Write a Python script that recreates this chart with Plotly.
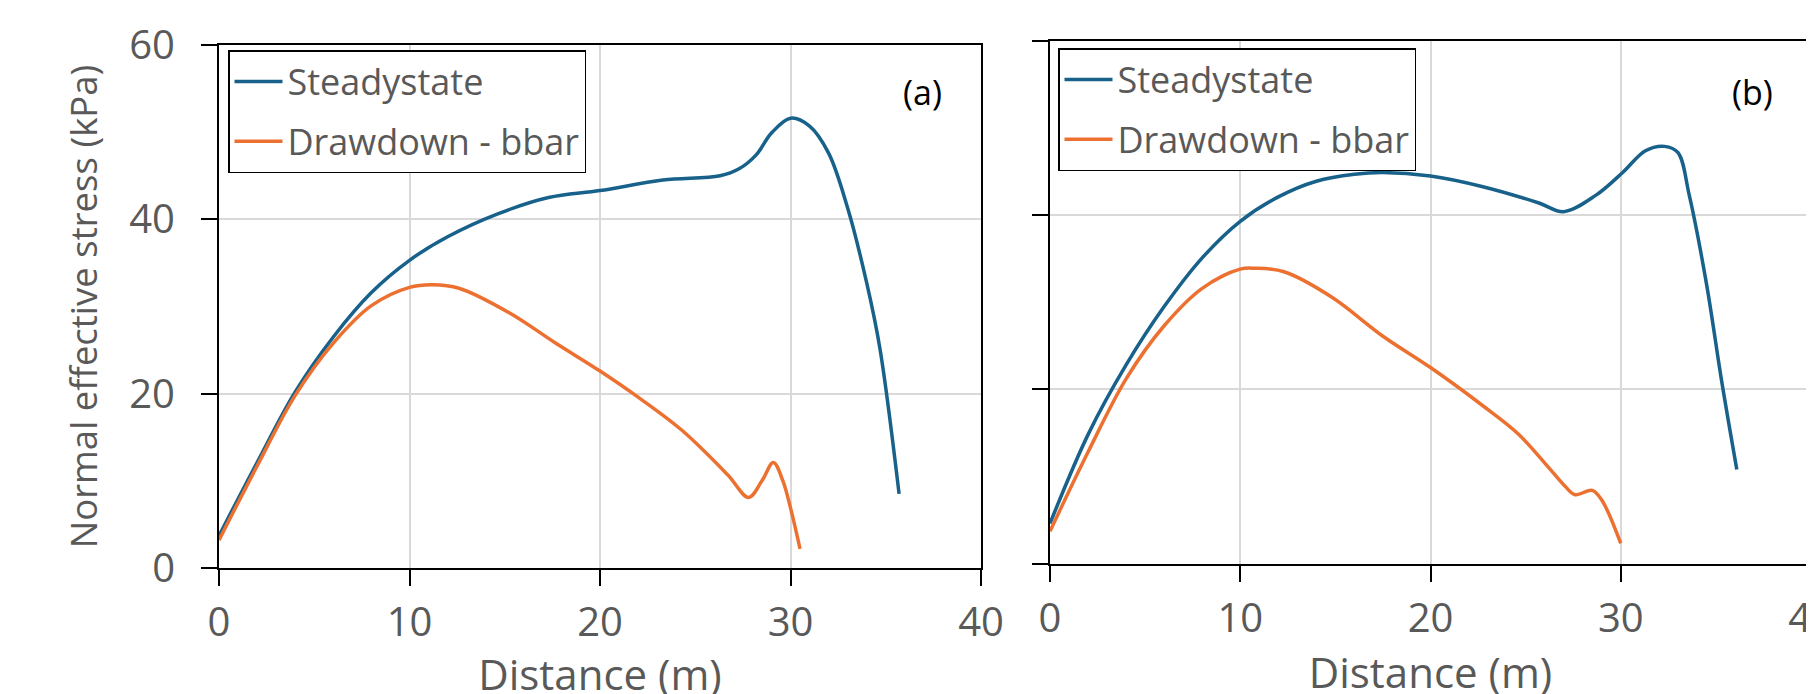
import plotly.graph_objects as go

# ---- data (panel a) ----
a_steady_x = [0, 2, 4, 6, 8, 10, 12, 14.6, 17.3, 20, 23.3, 26.3, 27.3, 28.2, 29, 30, 31, 32, 33, 34, 34.7, 35.7]
a_steady_y = [3.7, 12.1, 20.2, 26.5, 31.6, 35.3, 38.0, 40.6, 42.5, 43.3, 44.5, 45.0, 45.8, 47.4, 49.9, 51.6, 50.7, 47.6, 41.3, 32.7, 25.1, 8.5]
a_draw_x = [0, 2, 4, 6, 8, 10, 11.2, 12.6, 15.3, 17.6, 20, 22, 24.3, 26.7, 27.8, 28.5, 29.1, 29.6, 30, 30.5]
a_draw_y = [3.2, 11.7, 19.8, 25.8, 30.1, 32.2, 32.5, 32.1, 29.2, 25.9, 22.6, 19.6, 15.8, 10.7, 8.1, 10.0, 12.1, 10.0, 6.9, 2.2]

# ---- data (panel b) ----
b_steady_x = [0, 2, 4, 6, 8, 10, 12, 14, 16, 17.5, 20, 22.7, 25.7, 27, 28.7, 30.1, 31.3, 32.3, 33, 33.6, 34.5, 35.3, 36.1]
b_steady_y = [4.6, 14.8, 22.8, 29.5, 35.1, 39.3, 42.1, 43.9, 44.7, 44.9, 44.5, 43.3, 41.4, 40.4, 42.3, 44.9, 47.4, 47.9, 47.2, 42.3, 32.2, 21.0, 10.8]
b_draw_x = [0, 2, 4, 6, 8, 10, 10.8, 12.3, 14.8, 17.5, 20, 22.7, 24.6, 26.1, 27.1, 27.6, 28.5, 29, 30]
b_draw_y = [3.7, 12.8, 21.2, 27.3, 31.6, 33.8, 33.9, 33.5, 30.6, 26.1, 22.5, 18.2, 14.9, 11.3, 8.8, 7.9, 8.4, 7.3, 2.3]

x_ticks = [0, 10, 20, 30, 40]
y_ticks = [0, 20, 40, 60]

BLUE = "#17618A"
ORANGE = "#EC7131"
GRID = "#D9D9D9"
TXT = "#595959"
FONT = "Open Sans"

fig = go.Figure()
def add(xs, ys, name, color, xa, ya, leg, grp):
    fig.add_trace(go.Scatter(x=xs, y=ys, mode="lines", name=name,
                             line=dict(color=color, width=3.5, shape="spline", smoothing=1.0),
                             xaxis=xa, yaxis=ya, legend=leg, legendgroup=grp))

add(a_steady_x, a_steady_y, "Steadystate", BLUE, "x", "y", "legend", "a1")
add(a_draw_x, a_draw_y, "Drawdown - bbar", ORANGE, "x", "y", "legend", "a2")
add(b_steady_x, b_steady_y, "Steadystate", BLUE, "x2", "y2", "legend2", "b1")
add(b_draw_x, b_draw_y, "Drawdown - bbar", ORANGE, "x2", "y2", "legend2", "b2")

W, H = 1814, 694
OFF = 8  # page body margin offset


def px_x(p):
    return (p - OFF) / W


def px_y(p):
    return 1 - (p - OFF) / H


common_axis = dict(showline=True, linecolor="black", linewidth=2, mirror=True,
                   showgrid=True, gridcolor=GRID, gridwidth=1.8, zeroline=False,
                   ticks="outside", ticklen=16, tickcolor="black", tickwidth=1.5,
                   automargin=False, ticklabeloverflow="allow",
                   tickfont=dict(family=FONT, size=40, color=TXT))

legend_common = dict(xanchor="left", yanchor="top", bgcolor="white",
                     bordercolor="black", borderwidth=1.5, traceorder="grouped",
                     tracegroupgap=10, itemwidth=48,
                     font=dict(family=FONT, size=36, color=TXT))

fig.update_layout(
    width=W, height=H,
    margin=dict(l=0, r=0, t=0, b=0, autoexpand=False),
    paper_bgcolor="white", plot_bgcolor="white",
    xaxis=dict(domain=[px_x(219), px_x(981)], range=[0, 40], tickvals=x_ticks, anchor="y",
               title=dict(text="Distance (m)", font=dict(family=FONT, size=42, color=TXT), standoff=0),
               ticklabelstandoff=2, **common_axis),
    yaxis=dict(domain=[px_y(568), px_y(45)], range=[0, 60], tickvals=y_ticks, anchor="x",
               title=dict(text="Normal effective stress (kPa)", font=dict(family=FONT, size=36.5, color=TXT), standoff=20),
               ticklabelstandoff=18, **common_axis),
    xaxis2=dict(domain=[px_x(1050), px_x(1811)], range=[0, 40], tickvals=x_ticks, anchor="y2",
                title=dict(text="Distance (m)", font=dict(family=FONT, size=42, color=TXT), standoff=0),
                ticklabelstandoff=2, **common_axis),
    yaxis2=dict(domain=[px_y(563.5), px_y(41)], range=[0, 60], tickvals=y_ticks, anchor="x2",
                showticklabels=False, **common_axis),
    legend=dict(x=px_x(228), y=px_y(50), **legend_common),
    legend2=dict(x=px_x(1058), y=px_y(48), **legend_common),
    annotations=[
        dict(text="(a)", x=px_x(922), y=px_y(92), xref="paper", yref="paper", showarrow=False,
             xanchor="center", yanchor="middle",
             font=dict(family=FONT, size=34, color="black")),
        dict(text="(b)", x=px_x(1752), y=px_y(92), xref="paper", yref="paper", showarrow=False,
             xanchor="center", yanchor="middle",
             font=dict(family=FONT, size=34, color="black")),
    ],
)

fig.write_html("out.html")
